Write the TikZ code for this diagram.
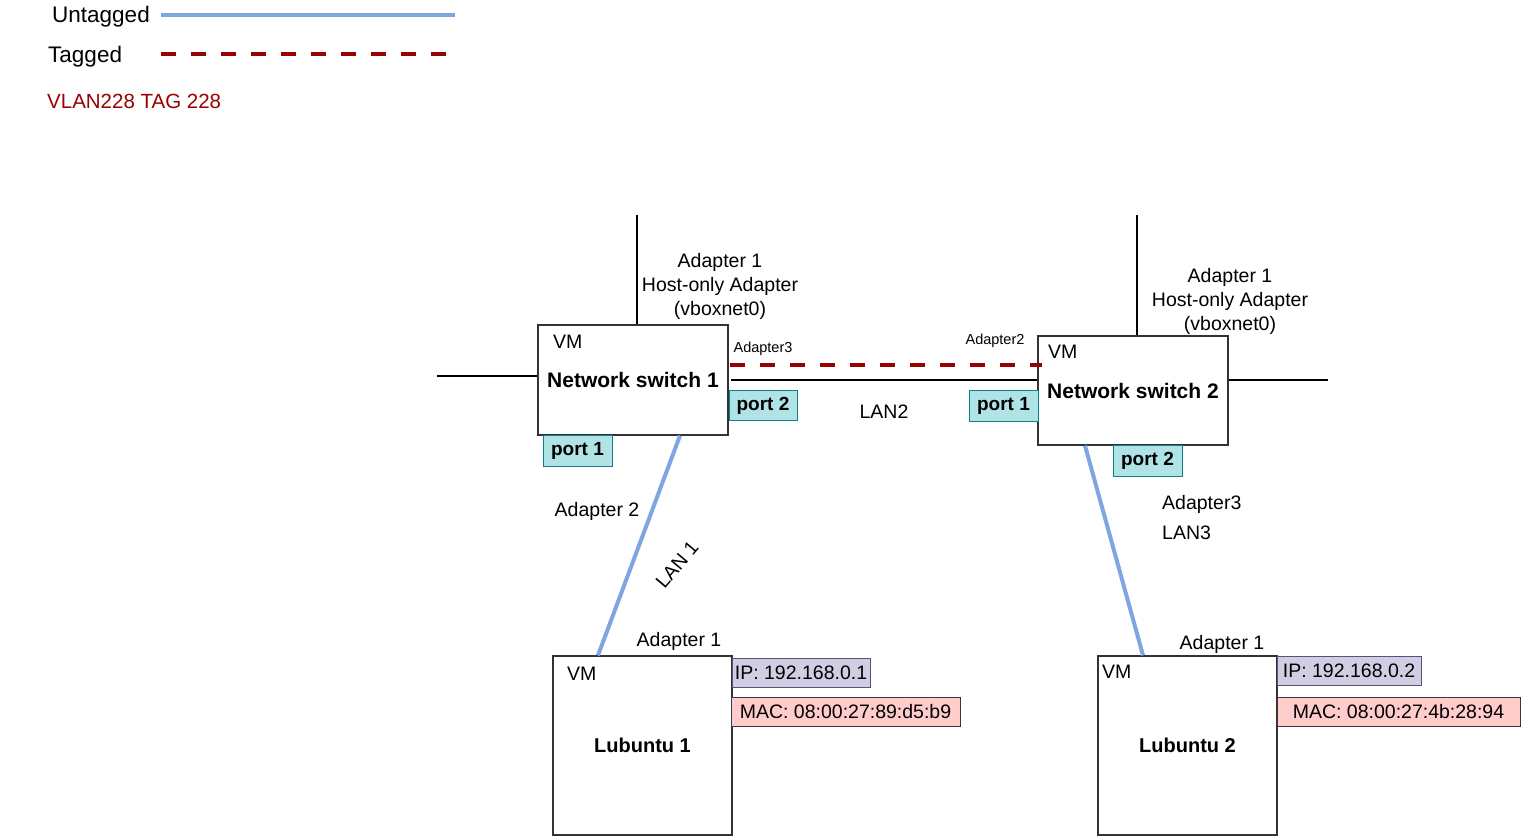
\documentclass[tikz,border=0pt]{standalone}
\usepackage{fontspec}
\setmainfont{Liberation Sans}
\usetikzlibrary{calc}

\definecolor{untagblue}{HTML}{7EA6E0}
\definecolor{tagred}{HTML}{990000}
\definecolor{portfill}{HTML}{B0E3E6}
\definecolor{portline}{HTML}{0E8088}
\definecolor{ipfill}{HTML}{D0CEE2}
\definecolor{ipline}{HTML}{56517E}
\definecolor{macfill}{HTML}{FFCCCC}
\definecolor{macline}{HTML}{36393D}

\tikzset{
  txt/.style={inner sep=0pt, align=center, yshift=-1.5pt},
  small/.style={inner sep=0pt, font=\fontsize{14.5}{17}\selectfont},
  vmbox/.style={draw=black!80, line width=1.2pt, fill=white, inner sep=0pt,
    font=\fontsize{20}{24}\selectfont\bfseries},
  switchbox/.style={vmbox, minimum width=190, font=\fontsize{21}{24}\selectfont\bfseries},
  port/.style={draw=portline, fill=portfill, line width=1pt, inner sep=0pt,
    minimum width=68, minimum height=30, font=\fontsize{19}{22}\selectfont\bfseries},
  ipbox/.style={draw=ipline, fill=ipfill, line width=1pt, inner sep=0pt,
    minimum height=29},
  macbox/.style={draw=macline, fill=macfill, line width=1pt, inner sep=0pt,
    minimum height=29},
  wire/.style={line width=1.5pt, black},
  untagged/.style={line width=4pt, untagblue},
  tagged/.style={line width=4.5pt, tagred, dash pattern=on 15pt off 15pt},
}

\begin{document}
\begin{tikzpicture}[x=1pt, y=-1pt, font=\fontsize{19.5}{24}\selectfont]
    \useasboundingbox (0,0) rectangle (1521,836);

    % legend
    \node[txt, anchor=west, font=\fontsize{22.5}{26}\selectfont] (untag) at (52,15) {Untagged};
    \node[txt, anchor=west, font=\fontsize{22.5}{26}\selectfont] (tag) at (48,55) {Tagged};
    \node[txt, anchor=west, text=tagred, font=\fontsize{20.5}{24}\selectfont] (vlan) at (47,100) {VLAN228 TAG 228};
    \coordinate (u0) at (161,15);
    \coordinate (u1) at (455,15);
    \coordinate (t0) at (161,54);
    \coordinate (t1) at (446,54);
    \draw[untagged] (u0) -- (u1);
    \draw[tagged] (t0) -- (t1);

    % switches and hosts
    \node[switchbox, minimum height=110] (sw1) at (633,380) {Network switch 1};
    \node[switchbox, minimum height=109] (sw2) at (1133,390.5) {Network switch 2};
    \node[vmbox, minimum width=179, minimum height=179] (lub1) at (642.5,745.5) {Lubuntu 1};
    \node[vmbox, minimum width=179, minimum height=179] (lub2) at (1187.5,745.5) {Lubuntu 2};
    \node[txt, anchor=west] (vm1) at (553,340) {VM};
    \node[txt, anchor=west] (vm2) at (1048,350) {VM};
    \node[txt, anchor=west] (vm3) at (567,672) {VM};
    \node[txt, anchor=west] (vm4) at (1102,670) {VM};

    % ports
    \node[port] (p2a) at (763,405.5) {port 2};
    \node[port, minimum width=69, minimum height=31] (p1a) at (577.5,450.5) {port 1};
    \node[port, minimum width=69, minimum height=31] (p1b) at (1003.5,405.5) {port 1};
    \node[port, minimum width=69, minimum height=31] (p2b) at (1147.5,460.5) {port 2};

    % addresses
    \node[ipbox, minimum width=138] (ip1) at (801,672.5) {IP: 192.168.0.1};
    \node[macbox, minimum width=229] (mac1) at (845.5,711.5) {MAC: 08:00:27:89:d5:b9};
    \node[ipbox, minimum width=144] (ip2) at (1349,670.5) {IP: 192.168.0.2};
    \node[macbox, minimum width=243] (mac2) at (1398.5,711.5) {MAC: 08:00:27:4b:28:94};

    % labels
    \node[txt] (ad1a) at (720,285) {Adapter 1\\Host-only Adapter\\(vboxnet0)};
    \node[txt] (ad1b) at (1230,300) {Adapter 1\\Host-only Adapter\\(vboxnet0)};
    \node[small] (ad3a) at (763,349) {Adapter3};
    \node[small] (ad2b) at (995,341) {Adapter2};
    \node[txt] (lan2) at (884,410) {LAN2};
    \node[txt] (ad2a) at (597,510) {Adapter 2};
    \node[txt, rotate=50] (lan1) at (677,563) {LAN 1};
    \node[txt] (ad1c) at (679,640) {Adapter 1};
    \node[txt] (ad1d) at (1222,643) {Adapter 1};
    \node[txt, anchor=west] (ad3b) at (1162,503) {Adapter3};
    \node[txt, anchor=west] (lan3) at (1162,531) {LAN3};

    % wires
    \coordinate (h1) at (637,215);
    \coordinate (h2) at (1137,215);
    \coordinate (e1) at (437,376);
    \coordinate (e2) at (1328,380);
    \draw[wire] (h1) -- (h1 |- sw1.north);
    \draw[wire] (h2) -- (h2 |- sw2.north);
    \draw[wire] (e1) -- (e1 -| sw1.west);
    \draw[wire] (e2) -- (e2 -| sw2.east);
    \draw[wire] ($(sw1.east)+(2,0)$) -- (sw1.east -| sw2.west);
    \draw[tagged] ($(sw1.east)+(1,-15)$) -- ($(sw2.west)+(5,-25.5)$);
    \draw[untagged] ($(sw1.south)+(47,0)$) -- ($(lub1.north)+(-44.5,0)$);
    \draw[untagged] ($(sw2.south)+(-48,0)$) -- ($(lub2.north)+(-44.5,0)$);
\end{tikzpicture}
\end{document}
